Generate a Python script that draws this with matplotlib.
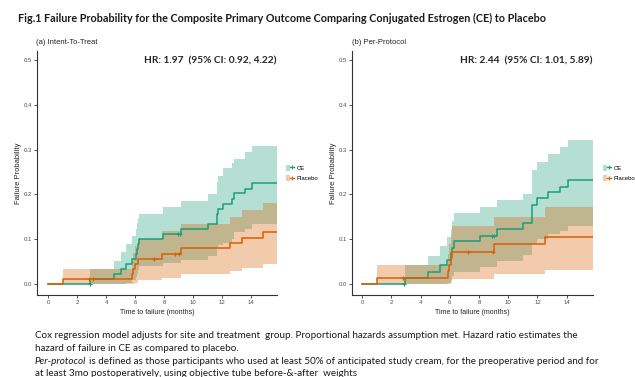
import matplotlib
matplotlib.use("Agg")
import matplotlib.pyplot as plt
from matplotlib.patches import Patch
from matplotlib.lines import Line2D
from matplotlib.legend_handler import HandlerTuple
import matplotlib.transforms as mtransforms

CE_COL = "#1B9E77"; PL_COL = "#D95F02"; AX = "#333333"; TICK = "#4D4D4D"
SERIF_UI = ["Lato", "DejaVu Sans"]
ARIAL = ["Liberation Sans", "DejaVu Sans"]

# ---- data: Intent-To-Treat -------------------------------------------------
itt_ce_t = [0, 2.9, 4.53, 5.05, 5.35, 5.75, 6.05, 6.15, 6.2, 6.3, 7.93, 9.2, 11.05,
            11.63, 11.66, 11.7, 12.04, 12.67, 12.8, 13.57, 14.1, 15.8]
itt_ce_v = [0, 0.011, 0.022, 0.033, 0.044, 0.055, 0.066, 0.077, 0.088, 0.1, 0.111, 0.122,
            0.134, 0.145, 0.156, 0.167, 0.179, 0.19, 0.202, 0.213, 0.225, 0.225]
itt_ce_lo = [0, 0, 0, 0, 0.002, 0.008, 0.015, 0.022, 0.03, 0.04, 0.047, 0.053, 0.063,
             0.069, 0.077, 0.087, 0.092, 0.101, 0.116, 0.122, 0.133, 0.133]
itt_ce_hi = [0, 0.033, 0.052, 0.072, 0.09, 0.107, 0.122, 0.135, 0.146, 0.157, 0.171, 0.186,
             0.2, 0.215, 0.228, 0.24, 0.258, 0.27, 0.28, 0.295, 0.307, 0.307]
itt_pl_t = [0, 1.0, 5.75, 5.85, 6.0, 6.2, 7.83, 9.2, 12.55, 13.4, 14.85, 15.8]
itt_pl_v = [0, 0.011, 0.022, 0.033, 0.044, 0.056, 0.067, 0.079, 0.091, 0.103, 0.115, 0.115]
itt_pl_lo = [0, 0, 0, 0, 0.002, 0.008, 0.014, 0.021, 0.028, 0.035, 0.045, 0.045]
itt_pl_hi = [0, 0.033, 0.052, 0.069, 0.085, 0.1, 0.117, 0.134, 0.15, 0.166, 0.18, 0.18]
itt_ce_cens_t = [2.85, 8.95, 9.08]; itt_ce_cens_v = [0, 0.111, 0.111]
itt_pl_cens_t = [2.8, 3.1, 7.3, 8.75, 9.0]; itt_pl_cens_v = [0.011, 0.011, 0.056, 0.067, 0.067]

# ---- data: Per-Protocol ----------------------------------------------------
pp_ce_t = [0, 2.9, 4.5, 5.3, 5.78, 6.05, 6.15, 6.3, 8.06, 9.2, 11.0, 11.59, 11.62, 11.65,
           11.94, 12.74, 13.54, 14.06, 15.8]
pp_ce_v = [0, 0.014, 0.027, 0.041, 0.054, 0.068, 0.081, 0.095, 0.107, 0.122, 0.135, 0.149,
           0.162, 0.176, 0.191, 0.206, 0.217, 0.232, 0.232]
pp_ce_lo = [0, 0, 0, 0, 0.001, 0.009, 0.018, 0.027, 0.038, 0.051, 0.065, 0.072, 0.08, 0.09,
            0.1, 0.112, 0.117, 0.13, 0.13]
pp_ce_hi = [0, 0.042, 0.063, 0.085, 0.104, 0.123, 0.14, 0.158, 0.171, 0.188, 0.2, 0.22,
            0.237, 0.254, 0.273, 0.29, 0.306, 0.322, 0.322]
pp_pl_t = [0, 1.0, 5.85, 5.95, 6.05, 6.15, 9.04, 12.5, 15.8]
pp_pl_v = [0, 0.014, 0.029, 0.043, 0.058, 0.072, 0.088, 0.104, 0.104]
pp_pl_lo = [0, 0, 0, 0, 0.003, 0.011, 0.021, 0.03, 0.03]
pp_pl_hi = [0, 0.042, 0.067, 0.089, 0.11, 0.13, 0.15, 0.172, 0.172]
pp_ce_cens_t = [2.85, 8.9, 9.0]; pp_ce_cens_v = [0, 0.107, 0.107]
pp_pl_cens_t = [2.8, 7.25, 8.95]; pp_pl_cens_v = [0.014, 0.072, 0.072]

x_ticks = [0, 2, 4, 6, 8, 10, 12, 14]
y_ticks = [0.0, 0.1, 0.2, 0.3, 0.4, 0.5]
groups = ["CE", "Placebo"]

W, H = 635, 377
fig = plt.figure(figsize=(W / 100, H / 100), dpi=100)
fig.patch.set_facecolor("white")


def px(x0, y0, w, h):
    return [x0 / W, 1 - (y0 + h) / H, w / W, h / H]


def km_panel(rect, xlim, ce, pl, ce_c, pl_c, hr, sub, sub_x, leg_x):
    ax = fig.add_axes(rect)
    for (t, v, lo, hi), col in [(ce, CE_COL), (pl, PL_COL)]:
        ax.fill_between(t, lo, hi, step="post", color=col, alpha=0.32, lw=0)
    for (t, v, lo, hi), (ct, cv), col in [(ce, ce_c, CE_COL), (pl, pl_c, PL_COL)]:
        ax.step(t, v, where="post", color=col, lw=1.1)
        ax.plot(ct, cv, ls="none", marker="+", ms=3.5, mew=0.8, color=col)
    ax.set_xlim(*xlim); ax.set_ylim(-0.025, 0.521)
    ax.set_xticks(x_ticks); ax.set_yticks(y_ticks, [f"{y:.1f}" for y in y_ticks])
    for s in ["top", "right"]:
        ax.spines[s].set_visible(False)
    for s in ["left", "bottom"]:
        ax.spines[s].set_color(AX); ax.spines[s].set_linewidth(0.8)
    ax.tick_params(length=2, width=0.6, color=AX, labelcolor=TICK, labelsize=4.3, pad=1.5)
    for lab in ax.get_xticklabels() + ax.get_yticklabels():
        lab.set_family(ARIAL)
    ax.set_xlabel("Time to failure (months)", fontsize=5, family=ARIAL, color="#222222", labelpad=3)
    ax.set_ylabel("Failure Probability", fontsize=5.5, family=ARIAL, color="#222222", labelpad=1.5)
    tr = mtransforms.blended_transform_factory(ax.transAxes, ax.transData)
    ax.text(1.0, 0.498, hr, transform=tr, ha="right", va="center", fontsize=7.3,
            fontweight="bold", family=SERIF_UI, color="#262626")
    fig.text(sub_x / W, 1 - 43 / H, sub, fontsize=5.5, family=ARIAL, va="center", color="#222222")
    handles = [(Patch(facecolor=c, alpha=0.32, lw=0),
                Line2D([], [], color=c, lw=1.0, marker="+", ms=3, mew=0.7)) for c in (CE_COL, PL_COL)]
    fig.legend(handles, groups, handler_map={tuple: HandlerTuple(ndivide=None, pad=0)},
               loc="upper left", bbox_to_anchor=(leg_x / W, 1 - 165 / H), frameon=False,
               handlelength=1.3, handleheight=1.1, handletextpad=0.5,
               labelspacing=0.7, borderpad=0, borderaxespad=0, prop={"family": ARIAL, "size": 4.3})
    return ax


km_panel(px(37, 50.7, 240, 244.3), (-0.78, 15.8),
         (itt_ce_t, itt_ce_v, itt_ce_lo, itt_ce_hi), (itt_pl_t, itt_pl_v, itt_pl_lo, itt_pl_hi),
         (itt_ce_cens_t, itt_ce_cens_v), (itt_pl_cens_t, itt_pl_cens_v),
         "HR: 1.97  (95% CI: 0.92, 4.22)", "(a) Intent-To-Treat", 36, 286)
km_panel(px(352, 50.7, 241, 244.3), (-0.7, 15.8),
         (pp_ce_t, pp_ce_v, pp_ce_lo, pp_ce_hi), (pp_pl_t, pp_pl_v, pp_pl_lo, pp_pl_hi),
         (pp_ce_cens_t, pp_ce_cens_v), (pp_pl_cens_t, pp_pl_cens_v),
         "HR: 2.44  (95% CI: 1.01, 5.89)", "(b) Per-Protocol", 352, 603)

fig.text(18 / W, 1 - 18 / H,
         "Fig.1 Failure Probability for the Composite Primary Outcome Comparing Conjugated Estrogen (CE) to Placebo",
         fontsize=7.75, fontweight="bold", family=SERIF_UI, va="center", color="#1a1a1a")

note_kw = dict(fontsize=7.12, family=SERIF_UI, va="center", color="#1a1a1a")
fig.text(35 / W, 1 - 336 / H, "Cox regression model adjusts for site and treatment  group. Proportional hazards "
         "assumption met. Hazard ratio estimates the", **note_kw)
fig.text(35 / W, 1 - 348.5 / H, "hazard of failure in CE as compared to placebo.", **note_kw)
t_it = fig.text(35 / W, 1 - 361 / H, "Per-protocol", style="italic", **note_kw)
fig.canvas.draw()
bb = t_it.get_window_extent()
fig.text((bb.x1 + 3) / W, 1 - 361 / H, "is defined as those participants who used at least 50% of anticipated "
         "study cream, for the preoperative period and for", **note_kw)
fig.text(35 / W, 1 - 373 / H, "at least 3mo postoperatively, using objective tube before-&-after  weights", **note_kw)

fig.savefig("out.png", dpi=100)
